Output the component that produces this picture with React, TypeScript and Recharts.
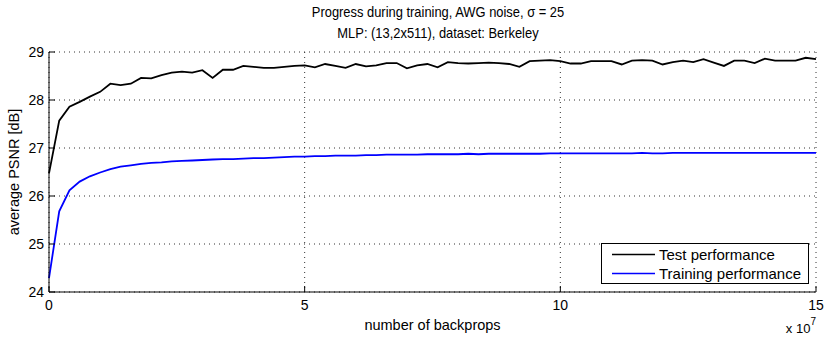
import React from 'react';
import { LineChart, Line, XAxis, YAxis, CartesianGrid, Legend, Label } from 'recharts';

const titleLines = ['Progress during training, AWG noise, \u03c3 = 25', 'MLP: (13,2x511), dataset: Berkeley'];
const xLabel = 'number of backprops';
const yLabel = 'average PSNR [dB]';
const xTicks = [0, 5, 10, 15];
const yTicks = [24, 25, 26, 27, 28, 29];
const seriesNames = ['Test performance', 'Training performance'];
const seriesColors = ['#000000', '#0000ff'];

// number of backprops, in units of 10^7
const backprops = [
  0, 0.2, 0.4, 0.6, 0.8, 1.0, 1.2, 1.4, 1.6, 1.8,
  2.0, 2.2, 2.4, 2.6, 2.8, 3.0, 3.2, 3.4, 3.6, 3.8,
  4.0, 4.2, 4.4, 4.6, 4.8, 5.0, 5.2, 5.4, 5.6, 5.8,
  6.0, 6.2, 6.4, 6.6, 6.8, 7.0, 7.2, 7.4, 7.6, 7.8,
  8.0, 8.2, 8.4, 8.6, 8.8, 9.0, 9.2, 9.4, 9.6, 9.8,
  10.0, 10.2, 10.4, 10.6, 10.8, 11.0, 11.2, 11.4, 11.6, 11.8,
  12.0, 12.2, 12.4, 12.6, 12.8, 13.0, 13.2, 13.4, 13.6, 13.8,
  14.0, 14.2, 14.4, 14.6, 14.8, 15.0,
];

const testPerf = [
  26.47, 27.57, 27.86, 27.96, 28.07, 28.17, 28.34, 28.31, 28.34, 28.46,
  28.45, 28.52, 28.57, 28.59, 28.57, 28.62, 28.46, 28.63, 28.63, 28.71,
  28.69, 28.67, 28.67, 28.69, 28.71, 28.72, 28.68, 28.75, 28.71, 28.67,
  28.75, 28.70, 28.72, 28.77, 28.77, 28.66, 28.72, 28.75, 28.68, 28.79,
  28.77, 28.76, 28.77, 28.78, 28.77, 28.75, 28.69, 28.81, 28.82, 28.83,
  28.81, 28.76, 28.76, 28.81, 28.81, 28.81, 28.74, 28.82, 28.83, 28.82,
  28.74, 28.79, 28.82, 28.79, 28.85, 28.78, 28.71, 28.82, 28.82, 28.77,
  28.86, 28.82, 28.82, 28.82, 28.88, 28.85,
];

const trainPerf = [
  24.29, 25.68, 26.12, 26.30, 26.41, 26.49, 26.56, 26.61, 26.64, 26.67,
  26.69, 26.70, 26.72, 26.73, 26.74, 26.75, 26.76, 26.77, 26.77, 26.78,
  26.79, 26.79, 26.80, 26.81, 26.82, 26.82, 26.83, 26.83, 26.84, 26.84,
  26.84, 26.85, 26.85, 26.86, 26.86, 26.86, 26.86, 26.87, 26.87, 26.87,
  26.87, 26.88, 26.87, 26.88, 26.88, 26.88, 26.88, 26.88, 26.88, 26.89,
  26.89, 26.89, 26.89, 26.89, 26.89, 26.89, 26.89, 26.89, 26.90, 26.89,
  26.89, 26.90, 26.90, 26.90, 26.90, 26.90, 26.90, 26.90, 26.90, 26.90,
  26.90, 26.90, 26.90, 26.90, 26.90, 26.90,
];

const data = backprops.map((x, i) => ({ x, test: testPerf[i], train: trainPerf[i] }));

const FONT = '"Liberation Sans", Arial, Helvetica, sans-serif';
const TICK_FS = 14;
const LABEL_FS = 14.5;
const LEGEND_FS = 15;
const TITLE_FS = 15;

const YTick = (props: any) => {
  const { x, y, payload } = props;
  return (
    <g>
      <line x1={x + 4} y1={y} x2={x + 10} y2={y} stroke="#000" strokeWidth={1} />
      <text x={x - 1} y={y} dy="0.35em" textAnchor="end" fontSize={TICK_FS} fontFamily={FONT} fill="#000">
        {payload.value}
      </text>
    </g>
  );
};

const XTick = (props: any) => {
  const { x, y, payload } = props;
  return (
    <g>
      <line x1={x} y1={y - 8} x2={x} y2={y - 14} stroke="#000" strokeWidth={1} />
      <text x={x} y={y} dy="0.71em" textAnchor="middle" fontSize={TICK_FS} fontFamily={FONT} fill="#000">
        {payload.value}
      </text>
    </g>
  );
};

const XLabelContent = (props: any) => {
  const { viewBox } = props;
  const { x, y, width } = viewBox;
  return (
    <g fontFamily={FONT} fill="#000">
      <text x={x + width / 2} y={y + 38} textAnchor="middle" fontSize={LABEL_FS}>
        {xLabel}
      </text>
      <text x={x + width} y={y + 41} textAnchor="end" fontSize={13}>
        x 10<tspan dy={-8} fontSize={10}>7</tspan>
      </text>
    </g>
  );
};

const YLabelContent = (props: any) => {
  const { viewBox } = props;
  const { y, height } = viewBox;
  const cx = 14;
  const cy = y + height / 2;
  return (
    <text x={cx} y={cy} transform={`rotate(-90, ${cx}, ${cy})`} textAnchor="middle" dy="0.35em" fontSize={LABEL_FS} fontFamily={FONT} fill="#000">
      {yLabel}
    </text>
  );
};

const LegendContent = () => {
  return (
    <div
      style={{
        border: '1px solid #000',
        background: '#fff',
        width: 206,
        height: 39,
        fontFamily: FONT,
        fontSize: LEGEND_FS,
        color: '#000',
        boxSizing: 'content-box',
      }}
    >
      {seriesNames.map((n, i) => (
        <div key={n} style={{ display: 'flex', alignItems: 'center', height: 19, marginTop: i === 0 ? 1 : 0 }}>
          <svg width={57} height={19} style={{ display: 'block', flex: 'none' }}>
            <line x1={10} y1={9.5} x2={53} y2={9.5} stroke={seriesColors[i]} strokeWidth={1.6} />
          </svg>
          <span style={{ lineHeight: '19px', whiteSpace: 'nowrap' }}>{n}</span>
        </div>
      ))}
    </div>
  );
};

export default function App() {
  return (
    <div style={{ position: 'absolute', left: 0, top: 0, width: 830, height: 337, background: '#fff' }}>
      <div
        style={{
          position: 'absolute',
          left: 188,
          width: 500,
          top: 1,
          textAlign: 'center',
          fontFamily: FONT,
          fontSize: TITLE_FS,
          lineHeight: '21px',
          color: '#000',
          transform: 'scaleX(0.86)',
          transformOrigin: '250px 0',
        }}
      >
        <div>{titleLines[0]}</div>
        <div>{titleLines[1]}</div>
      </div>
      <LineChart width={830} height={337} data={data} margin={{ top: 52, right: 14, bottom: 0, left: 0 }}>
        <CartesianGrid stroke="#333" strokeDasharray="1 4" strokeWidth={1} />
        <XAxis
          dataKey="x"
          type="number"
          domain={[0, 15]}
          ticks={xTicks}
          height={45}
          tickSize={0}
          tickMargin={8}
          tickLine={false}
          axisLine={{ stroke: '#000' }}
          tick={<XTick />}
          interval={0}
        >
          <Label content={<XLabelContent />} />
        </XAxis>
        <YAxis
          type="number"
          domain={[24, 29]}
          ticks={yTicks}
          width={49}
          tickSize={0}
          tickMargin={4}
          tickLine={false}
          axisLine={{ stroke: '#000' }}
          tick={<YTick />}
          interval={0}
        >
          <Label content={<YLabelContent />} />
        </YAxis>
        <Legend
          layout="horizontal"
          verticalAlign="middle"
          align="center"
          content={<LegendContent />}
          wrapperStyle={{ position: 'absolute', left: 601, top: 243, width: 208, height: 41 }}
        />
        <Line
          type="linear"
          dataKey="test"
          name={seriesNames[0]}
          stroke={seriesColors[0]}
          strokeWidth={1.8}
          dot={false}
          isAnimationActive={false}
        />
        <Line
          type="linear"
          dataKey="train"
          name={seriesNames[1]}
          stroke={seriesColors[1]}
          strokeWidth={1.8}
          dot={false}
          isAnimationActive={false}
        />
      </LineChart>
    </div>
  );
}
